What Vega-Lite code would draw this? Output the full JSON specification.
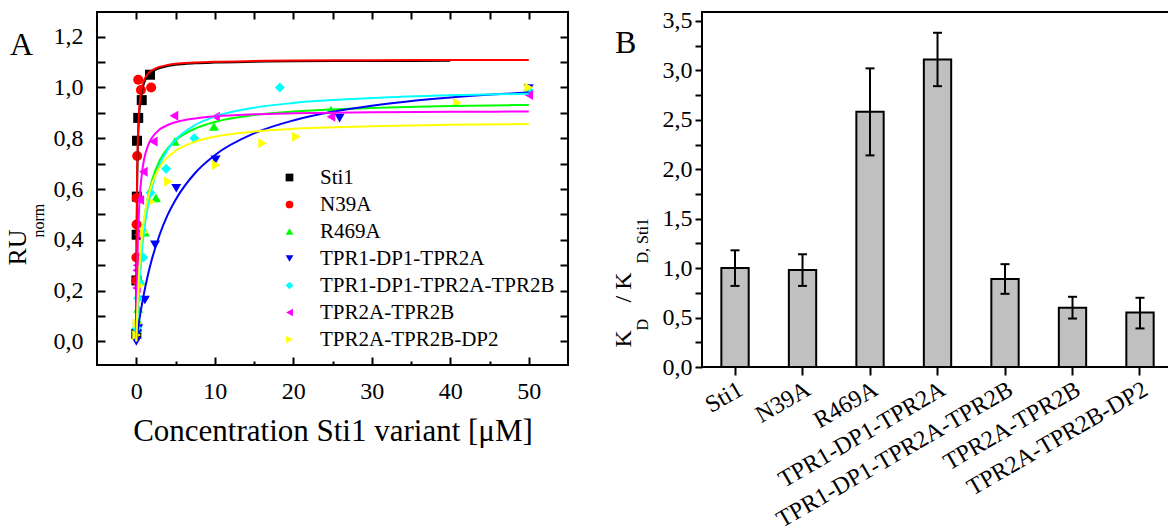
{
"$schema": "https://vega.github.io/schema/vega-lite/v6.json",
"autosize": "none",
"padding": {"left": 97, "top": 12, "right": 1071, "bottom": 518},
"background": "white",
"config": {
 "font": "Liberation Serif",
 "view": {"stroke": "black", "strokeWidth": 2},
 "axis": {"labelFont": "Liberation Serif", "titleFont": "Liberation Serif", "labelColor": "black", "titleColor": "black", "tickColor": "black", "titleFontWeight": "normal", "grid": false, "domain": false, "tickWidth": 2, "labelFontSize": 24},
 "legend": {"labelFont": "Liberation Serif", "titleFont": "Liberation Serif"}
},
"datasets": {
 "pts": [
  {"s":"Sti1","x":0.01,"y":0.03},{"s":"Sti1","x":0.025,"y":0.24},{"s":"Sti1","x":0.05,"y":0.42},{"s":"Sti1","x":0.075,"y":0.57},{"s":"Sti1","x":0.1,"y":0.79},{"s":"Sti1","x":0.25,"y":0.88},{"s":"Sti1","x":0.7,"y":0.95},{"s":"Sti1","x":1.75,"y":1.05},
  {"s":"N39A","x":0.01,"y":0.24},{"s":"N39A","x":0.02,"y":0.33},{"s":"N39A","x":0.04,"y":0.46},{"s":"N39A","x":0.06,"y":0.565},{"s":"N39A","x":0.12,"y":0.73},{"s":"N39A","x":0.25,"y":1.03},{"s":"N39A","x":0.6,"y":0.99},{"s":"N39A","x":1.9,"y":1.0},
  {"s":"R469A","x":0.05,"y":0.05},{"s":"R469A","x":0.1,"y":0.085},{"s":"R469A","x":0.25,"y":0.13},{"s":"R469A","x":0.5,"y":0.24},{"s":"R469A","x":1.1,"y":0.43},{"s":"R469A","x":2.5,"y":0.565},{"s":"R469A","x":4.9,"y":0.787},{"s":"R469A","x":9.9,"y":0.846},{"s":"R469A","x":24.8,"y":0.911},{"s":"R469A","x":50,"y":0.995},
  {"s":"TPR1-DP1-TPR2A","x":0.01,"y":0.0},{"s":"TPR1-DP1-TPR2A","x":0.1,"y":0.03},{"s":"TPR1-DP1-TPR2A","x":0.25,"y":0.05},{"s":"TPR1-DP1-TPR2A","x":1.1,"y":0.163},{"s":"TPR1-DP1-TPR2A","x":2.4,"y":0.38},{"s":"TPR1-DP1-TPR2A","x":5.1,"y":0.603},{"s":"TPR1-DP1-TPR2A","x":10.1,"y":0.715},{"s":"TPR1-DP1-TPR2A","x":25.9,"y":0.879},{"s":"TPR1-DP1-TPR2A","x":50,"y":0.995},
  {"s":"TPR1-DP1-TPR2A-TPR2B","x":0.05,"y":0.053},{"s":"TPR1-DP1-TPR2A-TPR2B","x":0.25,"y":0.17},{"s":"TPR1-DP1-TPR2A-TPR2B","x":0.4,"y":0.23},{"s":"TPR1-DP1-TPR2A-TPR2B","x":0.9,"y":0.33},{"s":"TPR1-DP1-TPR2A-TPR2B","x":1.8,"y":0.585},{"s":"TPR1-DP1-TPR2A-TPR2B","x":3.8,"y":0.68},{"s":"TPR1-DP1-TPR2A-TPR2B","x":7.4,"y":0.8},{"s":"TPR1-DP1-TPR2A-TPR2B","x":18.3,"y":1.0},{"s":"TPR1-DP1-TPR2A-TPR2B","x":50,"y":0.99},
  {"s":"TPR2A-TPR2B","x":0.02,"y":0.21},{"s":"TPR2A-TPR2B","x":0.05,"y":0.28},{"s":"TPR2A-TPR2B","x":0.1,"y":0.3},{"s":"TPR2A-TPR2B","x":0.25,"y":0.42},{"s":"TPR2A-TPR2B","x":0.45,"y":0.557},{"s":"TPR2A-TPR2B","x":0.9,"y":0.668},{"s":"TPR2A-TPR2B","x":2.16,"y":0.787},{"s":"TPR2A-TPR2B","x":4.8,"y":0.888},{"s":"TPR2A-TPR2B","x":10.1,"y":0.885},{"s":"TPR2A-TPR2B","x":24.8,"y":0.885},{"s":"TPR2A-TPR2B","x":50,"y":0.97},
  {"s":"TPR2A-TPR2B-DP2","x":0.05,"y":0.025},{"s":"TPR2A-TPR2B-DP2","x":0.1,"y":0.07},{"s":"TPR2A-TPR2B-DP2","x":0.5,"y":0.22},{"s":"TPR2A-TPR2B-DP2","x":1.0,"y":0.43},{"s":"TPR2A-TPR2B-DP2","x":1.9,"y":0.55},{"s":"TPR2A-TPR2B-DP2","x":4.1,"y":0.63},{"s":"TPR2A-TPR2B-DP2","x":10.2,"y":0.695},{"s":"TPR2A-TPR2B-DP2","x":16.1,"y":0.78},{"s":"TPR2A-TPR2B-DP2","x":20.4,"y":0.806},{"s":"TPR2A-TPR2B-DP2","x":40.9,"y":0.94},{"s":"TPR2A-TPR2B-DP2","x":50,"y":1.0}
 ],
 "fit": [
  {"s":"Sti1","x":0,"y":0},{"s":"Sti1","x":0.02,"y":0.19},{"s":"Sti1","x":0.05,"y":0.39},{"s":"Sti1","x":0.1,"y":0.58},{"s":"Sti1","x":0.2,"y":0.765},{"s":"Sti1","x":0.35,"y":0.88},{"s":"Sti1","x":0.5,"y":0.94},{"s":"Sti1","x":0.75,"y":0.99},{"s":"Sti1","x":1,"y":1.018},{"s":"Sti1","x":1.5,"y":1.046},{"s":"Sti1","x":2,"y":1.061},{"s":"Sti1","x":3,"y":1.076},{"s":"Sti1","x":4,"y":1.084},{"s":"Sti1","x":5,"y":1.089},{"s":"Sti1","x":7.5,"y":1.095},{"s":"Sti1","x":10,"y":1.098},{"s":"Sti1","x":15,"y":1.101},{"s":"Sti1","x":20,"y":1.103},{"s":"Sti1","x":30,"y":1.104},{"s":"Sti1","x":40,"y":1.105},
  {"s":"N39A","x":0,"y":0},{"s":"N39A","x":0.02,"y":0.222},{"s":"N39A","x":0.05,"y":0.427},{"s":"N39A","x":0.1,"y":0.617},{"s":"N39A","x":0.2,"y":0.793},{"s":"N39A","x":0.35,"y":0.903},{"s":"N39A","x":0.5,"y":0.957},{"s":"N39A","x":0.75,"y":1.003},{"s":"N39A","x":1,"y":1.028},{"s":"N39A","x":1.5,"y":1.054},{"s":"N39A","x":2,"y":1.067},{"s":"N39A","x":3,"y":1.081},{"s":"N39A","x":4,"y":1.088},{"s":"N39A","x":5,"y":1.093},{"s":"N39A","x":7.5,"y":1.098},{"s":"N39A","x":10,"y":1.101},{"s":"N39A","x":15,"y":1.104},{"s":"N39A","x":20,"y":1.106},{"s":"N39A","x":30,"y":1.107},{"s":"N39A","x":40,"y":1.108},{"s":"N39A","x":50,"y":1.108},
  {"s":"R469A","x":0,"y":0},{"s":"R469A","x":0.1,"y":0.086},{"s":"R469A","x":0.2,"y":0.158},{"s":"R469A","x":0.35,"y":0.246},{"s":"R469A","x":0.5,"y":0.317},{"s":"R469A","x":0.75,"y":0.407},{"s":"R469A","x":1,"y":0.475},{"s":"R469A","x":1.5,"y":0.57},{"s":"R469A","x":2,"y":0.633},{"s":"R469A","x":3,"y":0.713},{"s":"R469A","x":4,"y":0.76},{"s":"R469A","x":5,"y":0.792},{"s":"R469A","x":7.5,"y":0.838},{"s":"R469A","x":10,"y":0.864},{"s":"R469A","x":15,"y":0.891},{"s":"R469A","x":20,"y":0.905},{"s":"R469A","x":30,"y":0.919},{"s":"R469A","x":40,"y":0.927},{"s":"R469A","x":50,"y":0.931},
  {"s":"TPR1-DP1-TPR2A","x":0,"y":0},{"s":"TPR1-DP1-TPR2A","x":0.25,"y":0.055},{"s":"TPR1-DP1-TPR2A","x":0.5,"y":0.105},{"s":"TPR1-DP1-TPR2A","x":1,"y":0.191},{"s":"TPR1-DP1-TPR2A","x":1.5,"y":0.263},{"s":"TPR1-DP1-TPR2A","x":2,"y":0.324},{"s":"TPR1-DP1-TPR2A","x":3,"y":0.422},{"s":"TPR1-DP1-TPR2A","x":4,"y":0.498},{"s":"TPR1-DP1-TPR2A","x":5,"y":0.557},{"s":"TPR1-DP1-TPR2A","x":7.5,"y":0.663},{"s":"TPR1-DP1-TPR2A","x":10,"y":0.733},{"s":"TPR1-DP1-TPR2A","x":15,"y":0.819},{"s":"TPR1-DP1-TPR2A","x":20,"y":0.87},{"s":"TPR1-DP1-TPR2A","x":25,"y":0.904},{"s":"TPR1-DP1-TPR2A","x":30,"y":0.928},{"s":"TPR1-DP1-TPR2A","x":40,"y":0.96},{"s":"TPR1-DP1-TPR2A","x":50,"y":0.98},
  {"s":"TPR1-DP1-TPR2A-TPR2B","x":0,"y":0},{"s":"TPR1-DP1-TPR2A-TPR2B","x":0.1,"y":0.071},{"s":"TPR1-DP1-TPR2A-TPR2B","x":0.2,"y":0.133},{"s":"TPR1-DP1-TPR2A-TPR2B","x":0.35,"y":0.212},{"s":"TPR1-DP1-TPR2A-TPR2B","x":0.5,"y":0.278},{"s":"TPR1-DP1-TPR2A-TPR2B","x":0.75,"y":0.366},{"s":"TPR1-DP1-TPR2A-TPR2B","x":1,"y":0.435},{"s":"TPR1-DP1-TPR2A-TPR2B","x":1.5,"y":0.536},{"s":"TPR1-DP1-TPR2A-TPR2B","x":2,"y":0.606},{"s":"TPR1-DP1-TPR2A-TPR2B","x":3,"y":0.698},{"s":"TPR1-DP1-TPR2A-TPR2B","x":4,"y":0.755},{"s":"TPR1-DP1-TPR2A-TPR2B","x":5,"y":0.794},{"s":"TPR1-DP1-TPR2A-TPR2B","x":7.5,"y":0.852},{"s":"TPR1-DP1-TPR2A-TPR2B","x":10,"y":0.885},{"s":"TPR1-DP1-TPR2A-TPR2B","x":15,"y":0.92},{"s":"TPR1-DP1-TPR2A-TPR2B","x":20,"y":0.939},{"s":"TPR1-DP1-TPR2A-TPR2B","x":30,"y":0.958},{"s":"TPR1-DP1-TPR2A-TPR2B","x":40,"y":0.969},{"s":"TPR1-DP1-TPR2A-TPR2B","x":50,"y":0.975},
  {"s":"TPR2A-TPR2B","x":0,"y":0},{"s":"TPR2A-TPR2B","x":0.02,"y":0.063},{"s":"TPR2A-TPR2B","x":0.05,"y":0.142},{"s":"TPR2A-TPR2B","x":0.1,"y":0.246},{"s":"TPR2A-TPR2B","x":0.2,"y":0.387},{"s":"TPR2A-TPR2B","x":0.35,"y":0.514},{"s":"TPR2A-TPR2B","x":0.5,"y":0.591},{"s":"TPR2A-TPR2B","x":0.75,"y":0.669},{"s":"TPR2A-TPR2B","x":1,"y":0.717},{"s":"TPR2A-TPR2B","x":1.5,"y":0.771},{"s":"TPR2A-TPR2B","x":2,"y":0.802},{"s":"TPR2A-TPR2B","x":3,"y":0.835},{"s":"TPR2A-TPR2B","x":4,"y":0.852},{"s":"TPR2A-TPR2B","x":5,"y":0.863},{"s":"TPR2A-TPR2B","x":7.5,"y":0.878},{"s":"TPR2A-TPR2B","x":10,"y":0.886},{"s":"TPR2A-TPR2B","x":15,"y":0.894},{"s":"TPR2A-TPR2B","x":20,"y":0.898},{"s":"TPR2A-TPR2B","x":30,"y":0.902},{"s":"TPR2A-TPR2B","x":40,"y":0.904},{"s":"TPR2A-TPR2B","x":50,"y":0.905},
  {"s":"TPR2A-TPR2B-DP2","x":0,"y":0},{"s":"TPR2A-TPR2B-DP2","x":0.1,"y":0.097},{"s":"TPR2A-TPR2B-DP2","x":0.2,"y":0.174},{"s":"TPR2A-TPR2B-DP2","x":0.35,"y":0.265},{"s":"TPR2A-TPR2B-DP2","x":0.5,"y":0.335},{"s":"TPR2A-TPR2B-DP2","x":0.75,"y":0.421},{"s":"TPR2A-TPR2B-DP2","x":1,"y":0.483},{"s":"TPR2A-TPR2B-DP2","x":1.5,"y":0.567},{"s":"TPR2A-TPR2B-DP2","x":2,"y":0.621},{"s":"TPR2A-TPR2B-DP2","x":3,"y":0.687},{"s":"TPR2A-TPR2B-DP2","x":4,"y":0.725},{"s":"TPR2A-TPR2B-DP2","x":5,"y":0.75},{"s":"TPR2A-TPR2B-DP2","x":7.5,"y":0.786},{"s":"TPR2A-TPR2B-DP2","x":10,"y":0.806},{"s":"TPR2A-TPR2B-DP2","x":15,"y":0.826},{"s":"TPR2A-TPR2B-DP2","x":20,"y":0.837},{"s":"TPR2A-TPR2B-DP2","x":30,"y":0.847},{"s":"TPR2A-TPR2B-DP2","x":40,"y":0.853},{"s":"TPR2A-TPR2B-DP2","x":50,"y":0.856}
 ],
 "kd": [
  {"k":"Sti1","v":1.0,"lo":0.82,"hi":1.18},
  {"k":"N39A","v":0.98,"lo":0.82,"hi":1.14},
  {"k":"R469A","v":2.58,"lo":2.14,"hi":3.02},
  {"k":"TPR1-DP1-TPR2A","v":3.11,"lo":2.84,"hi":3.38},
  {"k":"TPR1-DP1-TPR2A-TPR2B","v":0.89,"lo":0.74,"hi":1.04},
  {"k":"TPR2A-TPR2B","v":0.6,"lo":0.49,"hi":0.71},
  {"k":"TPR2A-TPR2B-DP2","v":0.55,"lo":0.39,"hi":0.7}
 ]
},
"hconcat": [
 {
  "width": 471, "height": 353,
  "title": {"text": "A", "anchor": "start", "frame": "group", "font": "Liberation Serif", "fontSize": 32, "fontWeight": "normal", "color": "black", "dx": -87, "dy": 76, "offset": 0, "baseline": "alphabetic"},
  "resolve": {"axis": {"x": "independent", "y": "independent"}},
  "layer": [
   {
    "data": {"name": "pts"},
    "mark": {"type": "point", "filled": true, "size": 100, "opacity": 1, "strokeWidth": 0},
    "encoding": {
     "x": {"field": "x", "type": "quantitative", "scale": {"domain": [-5, 55], "nice": false, "zero": false},
       "axis": {"orient": "bottom", "values": [0,10,20,30,40,50], "tickSize": -8, "labelPadding": 22, "title": "Concentration Sti1 variant [μM]", "titleFontSize": 31, "titleY": 75, "titleBaseline": "alphabetic"}},
     "y": {"field": "y", "type": "quantitative", "scale": {"domain": [-0.093, 1.297], "nice": false, "zero": false},
       "axis": {"orient": "left", "values": [0,0.1,0.2,0.3,0.4,0.5,0.6,0.7,0.8,0.9,1.0,1.1,1.2], "tickSize": -8, "labelPadding": 22, "labelExpr": "round(datum.value*10) % 2 == 0 ? replace(format(datum.value, '.1f'), '.', ',') : ''", "title": "RU", "titleFontSize": 26, "titleX": -72, "titleY": 253, "titleAngle": 270, "titleAlign": "left", "titleBaseline": "alphabetic"}},
     "fill": {"field": "s", "type": "nominal", "scale": {"domain": ["Sti1","N39A","R469A","TPR1-DP1-TPR2A","TPR1-DP1-TPR2A-TPR2B","TPR2A-TPR2B","TPR2A-TPR2B-DP2"], "range": ["#000000","#ff0000","#00ff00","#0000ff","#00ffff","#ff00ff","#ffff00"]},
       "legend": {"orient": "none", "legendX": 182, "legendY": 155, "title": null, "labelFont": "Liberation Serif", "labelFontSize": 21, "labelColor": "black", "symbolSize": 60, "rowPadding": 5, "labelOffset": 20, "labelLimit": 400, "symbolStrokeWidth": 0, "padding": 0}},
     "shape": {"field": "s", "type": "nominal", "scale": {"domain": ["Sti1","N39A","R469A","TPR1-DP1-TPR2A","TPR1-DP1-TPR2A-TPR2B","TPR2A-TPR2B","TPR2A-TPR2B-DP2"], "range": ["square","circle","triangle-up","triangle-down","diamond","triangle-left","triangle-right"]},
       "legend": {"orient": "none", "legendX": 182, "legendY": 155, "title": null, "labelFont": "Liberation Serif", "labelFontSize": 21, "labelColor": "black", "symbolSize": 60, "rowPadding": 5, "labelOffset": 20, "labelLimit": 400, "symbolStrokeWidth": 0, "padding": 0}}
    }
   },
   {
    "data": {"name": "fit"},
    "transform": [{"filter": "datum.s == 'Sti1' || datum.s == 'N39A'"}],
    "mark": {"type": "line", "strokeWidth": 2, "interpolate": "monotone"},
    "encoding": {
     "x": {"field": "x", "type": "quantitative", "axis": {"orient": "top", "values": [0,5,10,15,20,25,30,35,40,45,50], "tickSize": -7, "labels": false, "title": null}},
     "y": {"field": "y", "type": "quantitative", "axis": {"orient": "right", "values": [0,0.1,0.2,0.3,0.4,0.5,0.6,0.7,0.8,0.9,1.0,1.1,1.2], "tickSize": -8, "labels": false, "title": null}},
     "stroke": {"field": "s", "type": "nominal", "scale": {"domain": ["Sti1","N39A","R469A","TPR1-DP1-TPR2A","TPR1-DP1-TPR2A-TPR2B","TPR2A-TPR2B","TPR2A-TPR2B-DP2"], "range": ["#000000","#ff0000","#00ff00","#0000ff","#00ffff","#ff00ff","#ffff00"]}, "legend": null}
    }
   },
   {
    "data": {"name": "fit"},
    "transform": [{"filter": "datum.s != 'Sti1' && datum.s != 'N39A'"}],
    "mark": {"type": "line", "strokeWidth": 2, "interpolate": "monotone"},
    "encoding": {
     "x": {"field": "x", "type": "quantitative", "axis": {"orient": "bottom", "values": [5,15,25,35,45], "tickSize": -4, "labels": false, "title": null}},
     "y": {"field": "y", "type": "quantitative", "axis": {"orient": "left", "ticks": false, "labels": false, "title": "norm", "titleFontSize": 16, "titleX": -54, "titleY": 225, "titleAngle": 270, "titleAlign": "left", "titleBaseline": "alphabetic"}},
     "stroke": {"field": "s", "type": "nominal", "scale": {"domain": ["Sti1","N39A","R469A","TPR1-DP1-TPR2A","TPR1-DP1-TPR2A-TPR2B","TPR2A-TPR2B","TPR2A-TPR2B-DP2"], "range": ["#000000","#ff0000","#00ff00","#0000ff","#00ffff","#ff00ff","#ffff00"]}, "legend": null}
    }
   }
  ]
 },
 {
  "width": 467, "height": 355,
  "data": {"name": "kd"},
  "title": {"text": "B", "anchor": "start", "frame": "group", "font": "Liberation Serif", "fontSize": 32, "fontWeight": "normal", "color": "black", "dx": -87, "dy": 76, "offset": 0, "baseline": "alphabetic"},
  "resolve": {"axis": {"x": "independent", "y": "independent"}},
  "layer": [
   {
    "mark": {"type": "bar", "fill": "#c0c0c0", "stroke": "black", "strokeWidth": 2},
    "encoding": {
     "x": {"field": "k", "type": "nominal", "scale": {"domain": ["Sti1","N39A","R469A","TPR1-DP1-TPR2A","TPR1-DP1-TPR2A-TPR2B","TPR2A-TPR2B","TPR2A-TPR2B-DP2"], "paddingInner": 0.595, "paddingOuter": 0.257, "align": 0.558},
       "axis": {"orient": "bottom", "labelAngle": -30, "tickSize": 8, "labelPadding": 2, "labelLimit": 500, "labelFont": "Liberation Serif", "title": null}},
     "y": {"field": "v", "type": "quantitative", "scale": {"domain": [0, 3.59], "nice": false},
       "axis": {"orient": "left", "values": [0,0.25,0.5,0.75,1,1.25,1.5,1.75,2,2.25,2.5,2.75,3,3.25,3.5], "tickSize": 7, "labelPadding": 3, "labelExpr": "round(datum.value*100) % 50 == 0 ? replace(format(datum.value, '.1f'), '.', ',') : ''", "title": "K", "titleFontSize": 24, "titleX": -72, "titleY": 335, "titleAngle": 270, "titleAlign": "left", "titleBaseline": "alphabetic"}}
    }
   },
   {
    "mark": {"type": "rule", "strokeWidth": 2, "color": "black"},
    "encoding": {
     "x": {"field": "k", "type": "nominal", "axis": null},
     "y": {"field": "lo", "type": "quantitative", "axis": {"orient": "left", "ticks": false, "labels": false, "title": "D", "titleFontSize": 16, "titleX": -55, "titleY": 318, "titleAngle": 270, "titleAlign": "left", "titleBaseline": "alphabetic"}},
     "y2": {"field": "hi"}
    }
   },
   {
    "mark": {"type": "tick", "size": 9, "thickness": 2, "color": "black", "opacity": 1},
    "encoding": {
     "x": {"field": "k", "type": "nominal", "axis": null},
     "y": {"field": "lo", "type": "quantitative", "axis": {"orient": "left", "ticks": false, "labels": false, "title": "/  K", "titleFontSize": 24, "titleX": -72, "titleY": 290, "titleAngle": 270, "titleAlign": "left", "titleBaseline": "alphabetic"}}
    }
   },
   {
    "mark": {"type": "tick", "size": 9, "thickness": 2, "color": "black", "opacity": 1},
    "encoding": {
     "x": {"field": "k", "type": "nominal", "axis": null},
     "y": {"field": "hi", "type": "quantitative", "axis": {"orient": "left", "ticks": false, "labels": false, "title": "D, Sti1", "titleFontSize": 16, "titleX": -55, "titleY": 251, "titleAngle": 270, "titleAlign": "left", "titleBaseline": "alphabetic"}}
    }
   }
  ]
 }
],
"spacing": 134,
"bounds": "flush"
}
